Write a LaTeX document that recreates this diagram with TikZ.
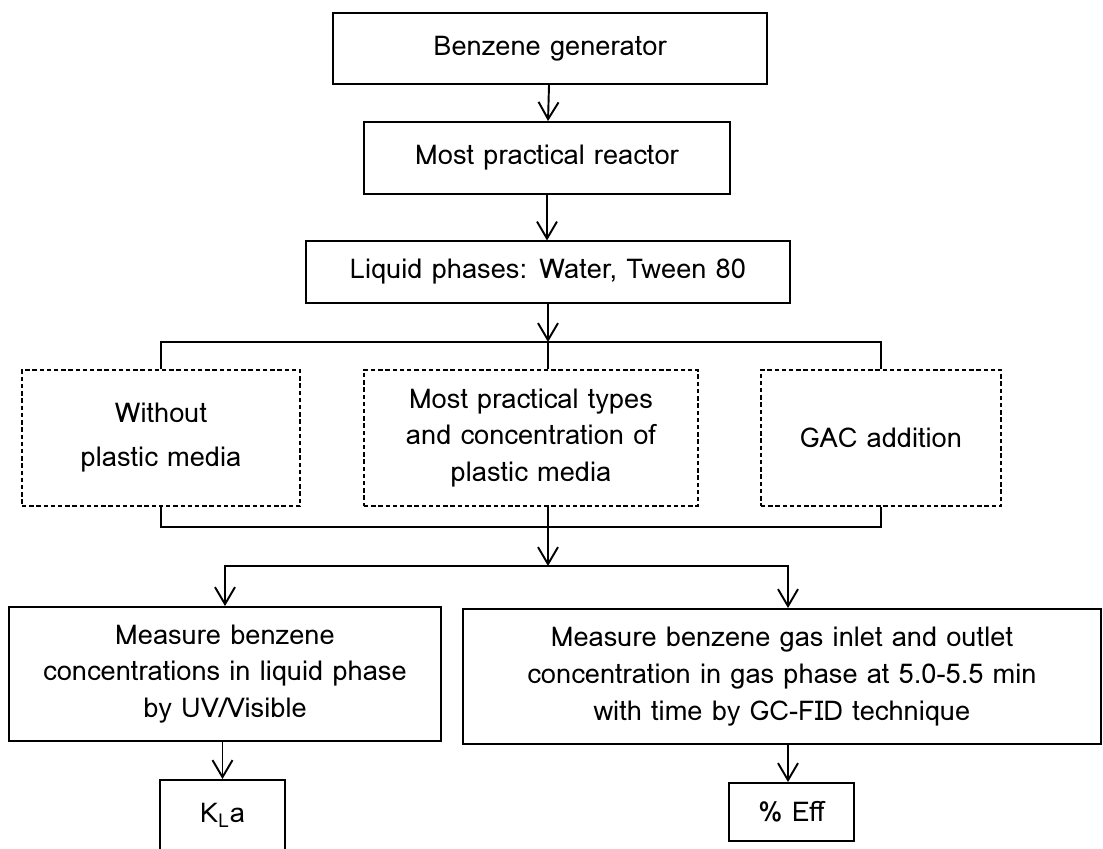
\documentclass[tikz,border=0pt]{standalone}
\usepackage{fontspec}
\setmainfont{Loma}
\usepackage{tikz}
\usetikzlibrary{arrows.meta, positioning}

\begin{document}
\begin{tikzpicture}[
every node/.style={font=\fontsize{15.5}{21}\selectfont},
boxnode/.style={rectangle, draw=black, line width=1.1pt, align=center, inner sep=2pt},
thinnode/.style={boxnode, line width=0.6pt},
dashnode/.style={boxnode, line width=0.6pt, dash pattern=on 2.5pt off 1.6pt},
linenode/.style={line width=1.1pt, black},
arrownode/.style={linenode, -{Straight Barb[length=3.4mm, width=4mm, line width=1.1pt]}}
]
\fill[white] (0,0) rectangle (22.06,-16.98);
\useasboundingbox (0,0) rectangle (22.06,-16.98);

\node[boxnode, minimum width=8.68cm, minimum height=1.42cm] (gen) at (11.00,-0.97) {Benzene generator};
\node[boxnode, minimum width=7.32cm, minimum height=1.44cm] (reactor) at (10.94,-3.16) {Most practical reactor};
\node[thinnode, minimum width=9.68cm, minimum height=1.24cm] (liquid) at (10.96,-5.44) {Liquid phases: Water, Tween 80};

\node[dashnode, minimum width=5.56cm, minimum height=2.72cm] (without) at (3.22,-8.76) {Without\\[4pt] plastic media};
\node[dashnode, minimum width=6.68cm, minimum height=2.72cm] (types) at (10.62,-8.76) {Most practical types\\ and concentration of\\ plastic media};
\node[dashnode, minimum width=4.80cm, minimum height=2.72cm] (gac) at (17.62,-8.76) {GAC addition};

\node[boxnode, minimum width=8.64cm, minimum height=2.68cm] (uv) at (4.50,-13.48) {Measure benzene\\ concentrations in liquid phase\\ by UV/Visible};
\node[boxnode, minimum width=12.76cm, minimum height=2.70cm] (gc) at (15.64,-13.53) {Measure benzene gas inlet and outlet\\ concentration in gas phase at 5.0-5.5 min\\ with time by GC-FID technique};

\node[boxnode, minimum width=2.50cm, minimum height=1.40cm] (kla) at (4.45,-16.30) {K\textsubscript{L}a};
\node[boxnode, minimum width=2.50cm, minimum height=1.16cm] (eff) at (15.83,-16.24) {\% Eff};

\coordinate (bustop) at (10.96,-6.84);
\coordinate (busbot) at (10.96,-10.54);
\coordinate (split) at (10.96,-11.32);

\draw[arrownode] (gen) -- (reactor);
\draw[arrownode] (reactor) -- (reactor |- liquid.north);
\draw[arrownode] (liquid.south) -- (bustop);
\draw[linenode] (without.north) |- (gac.north |- bustop) -- (gac.north);
\draw[linenode] (bustop) -- (bustop |- types.north);
\draw[linenode] (without.south) |- (gac.south |- busbot) -- (gac.south);
\draw[linenode] (busbot |- types.south) -- (busbot);
\draw[arrownode] (busbot) -- (split);
\draw[arrownode] (split) -| (uv.north);
\draw[arrownode] (split) -| ([xshift=0.12cm]gc.north);
\draw[arrownode] (uv.south -| kla.north) -- (kla.north);
\draw[arrownode] ([xshift=0.12cm]gc.south) -- ([xshift=0.12cm]gc.south |- eff.north);

\end{tikzpicture}
\end{document}
